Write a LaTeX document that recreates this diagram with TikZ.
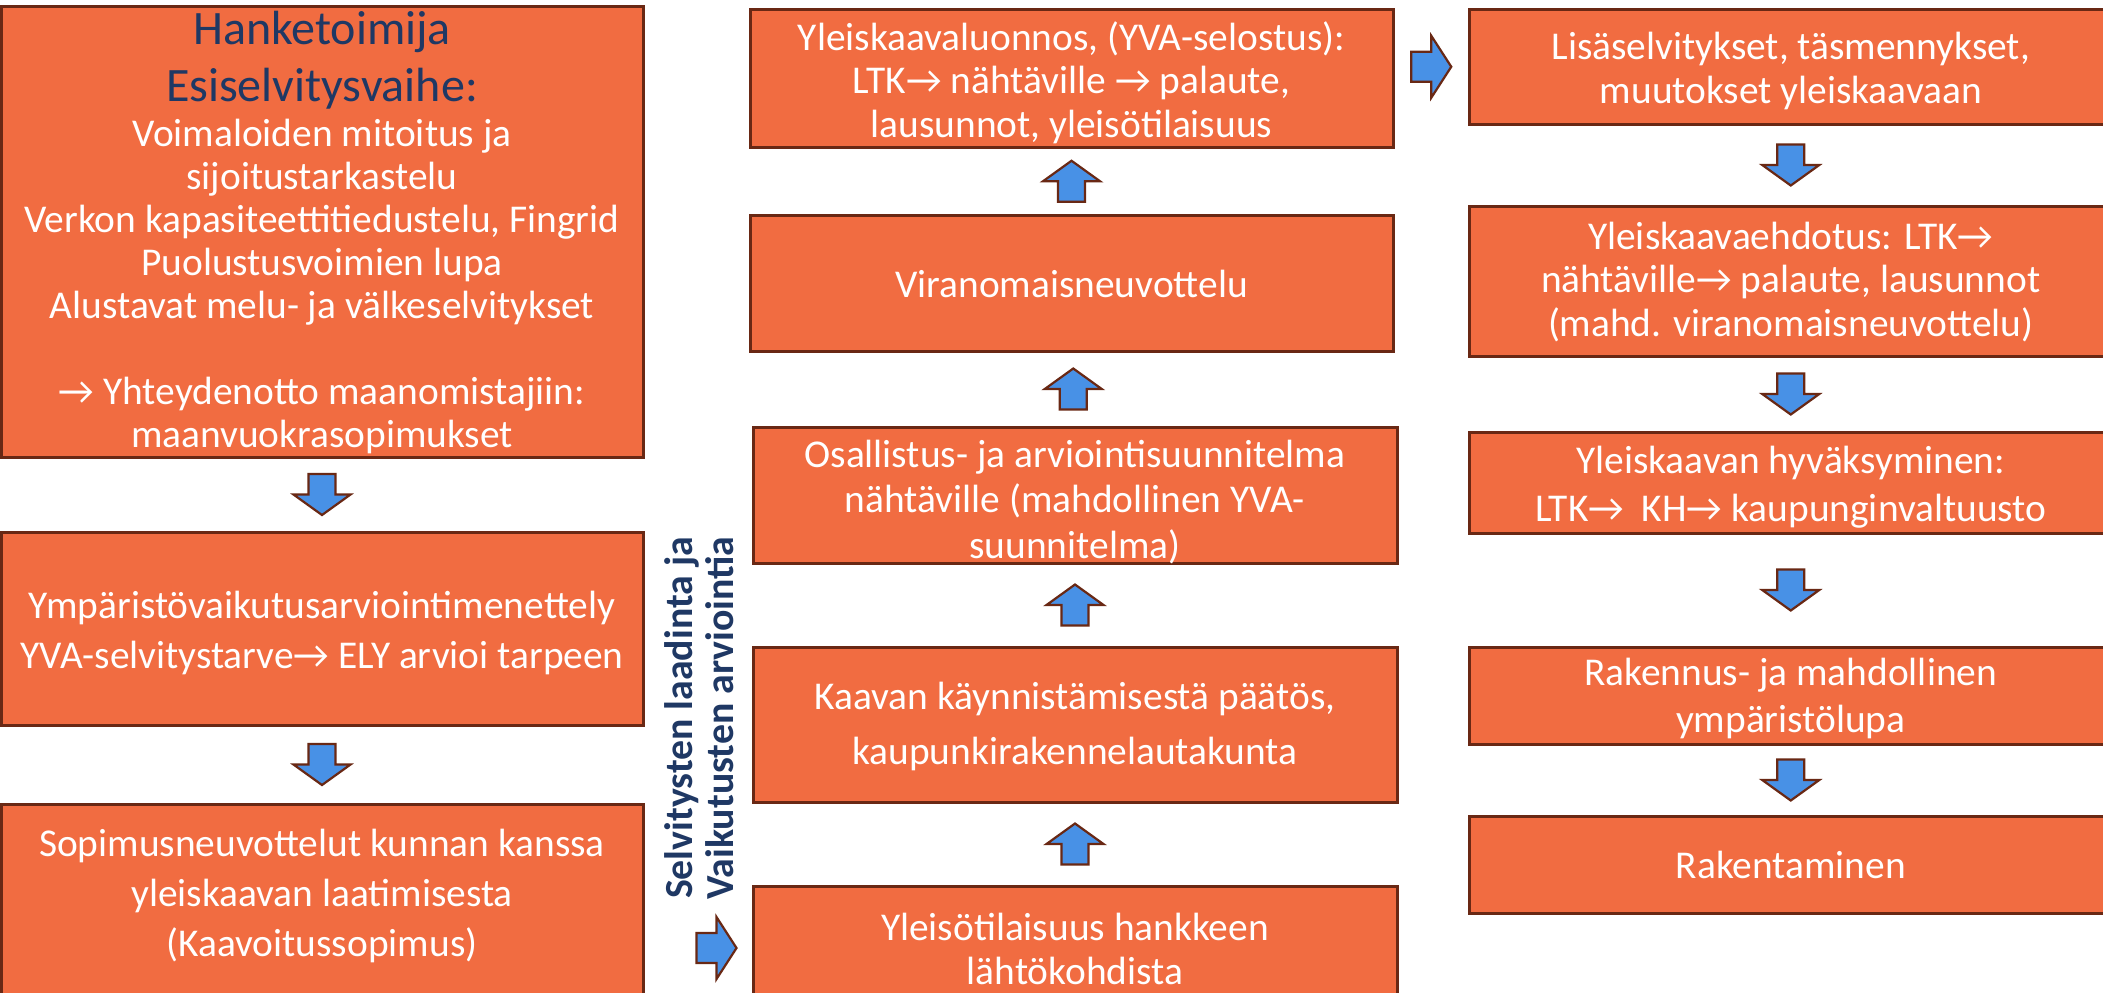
\documentclass[tikz,border=0pt]{standalone}
\usepackage{fontspec}
\setmainfont{Carlito}
\usetikzlibrary{calc}
\definecolor{org}{RGB}{241,108,65}
\definecolor{brd}{RGB}{105,40,20}
\definecolor{blu}{RGB}{72,145,230}
\definecolor{navy}{RGB}{31,56,100}
\tikzset{
  box/.style={draw=brd, fill=org, line width=1.5pt, inner sep=0pt},
  boxtext/.style={text=white, align=center, inner sep=0pt},
  barrow/.style={draw=brd, fill=blu, line width=1.1pt, line join=miter},
  dnarr/.pic={\path[barrow] (-13.5,-20.5) -- (13.5,-20.5) -- (13.5,0) -- (28.5,0) -- (0,20.5) -- (-28.5,0) -- (-13.5,0) -- cycle;},
  uparr/.pic={\path[barrow] (-13.5,20.5) -- (13.5,20.5) -- (13.5,0) -- (28.5,0) -- (0,-20.5) -- (-28.5,0) -- (-13.5,0) -- cycle;},
  rtarr/.pic={\path[barrow] (-20,-15) -- (0,-15) -- (0,-31) -- (20,0) -- (0,31) -- (0,15) -- (-20,15) -- cycle;}
}
% \bx{name}{x1}{y1}{x2}{y2}{leading}{text shift down in px}{text}  (pixel coordinates, y downwards)
\newcommand\bx[8]{\node[box, minimum width={(#4-#2)*0.5pt}, minimum height={(#5-#3)*0.5pt}]
  (#1) at ({(#2+#4)/2},{(#3+#5)/2}) {};
  \node[boxtext, font=\fontsize{19.7pt}{#6}\selectfont] (#1t) at ($(#1.center)+(0,#7)$) {#8};}
\begin{document}
\begin{tikzpicture}[x=0.5pt,y=-0.5pt]
\useasboundingbox (0,0) rectangle (2103,992);
\clip (0,0) rectangle (2103,992);
\fill[white] (0,0) rectangle (2103,992);
% left column
\node[box, minimum width=321pt, minimum height=225.5pt] (l1) at (322,231.5) {};
\node[boxtext, font=\fontsize{19.7pt}{21.5pt}\selectfont] (l1t) at ($(l1.center)+(0,1)$)
  {{\color{navy}\fontsize{24pt}{26pt}\selectfont Hanketoimija}\\[7pt]{\color{navy}\fontsize{24pt}{26pt}\selectfont Esiselvitysvaihe:}\\[1pt]Voimaloiden mitoitus ja\\sijoitustarkastelu\\Verkon kapasiteettitiedustelu, Fingrid\\Puolustusvoimien lupa\\Alustavat melu- ja välkeselvitykset\\\mbox{}\\→ Yhteydenotto maanomistajiin:\\maanvuokrasopimukset};
\bx{l2}{1}{532}{643}{725}{25pt}{4}{Ympäristövaikutusarviointimenettely\\YVA-selvitystarve→ ELY arvioi tarpeen}
\bx{l3}{1}{804}{643}{1000}{25pt}{-6}{Sopimusneuvottelut kunnan kanssa\\yleiskaavan laatimisesta\\(Kaavoitussopimus)}
% middle column
\bx{m1}{750}{9.5}{1393}{147.5}{21.8pt}{4}{Yleiskaavaluonnos, (YVA-selostus):\\LTK→ nähtäville → palaute,\\lausunnot, yleisötilaisuus}
\bx{m2}{750}{215}{1393}{351}{22pt}{1}{Viranomaisneuvottelu}
\bx{m3}{753}{427}{1397}{563}{22.8pt}{7}{Osallistus- ja arviointisuunnitelma\\nähtäville (mahdollinen YVA-\\suunnitelma)}
\bx{m4}{753}{647}{1397}{802}{27.5pt}{2}{Kaavan käynnistämisestä päätös,\\kaupunkirakennelautakunta}
\bx{m5}{753}{886}{1397}{1010}{22pt}{1}{Yleisötilaisuus hankkeen\\lähtökohdista}
% right column
\bx{r1}{1469.5}{9.5}{2112}{124}{22pt}{4}{Lisäselvitykset, täsmennykset,\\muutokset yleiskaavaan}
\bx{r2}{1469.5}{206}{2112}{356}{21.8pt}{1}{Yleiskaavaehdotus: LTK→\\nähtäville→ palaute, lausunnot\\(mahd. viranomaisneuvottelu)}
\bx{r3}{1469.5}{432}{2112}{533}{24pt}{5}{Yleiskaavan hyväksyminen:\\LTK→\ \ KH→ kaupunginvaltuusto}
\bx{r4}{1469.5}{647}{2112}{744}{23.5pt}{3}{Rakennus- ja mahdollinen\\ympäristölupa}
\bx{r5}{1469.5}{816}{2112}{913}{22pt}{0}{Rakentaminen}
% vertical label
\node[rotate=90, align=center, text=navy, inner sep=0pt,
  font=\fontsize{19.9pt}{20.5pt}\selectfont\bfseries] (lab) at (699,718) {Selvitysten laadinta ja\\Vaikutusten arviointia};
% arrows
\pic at ($(l1.south)!0.5!(l2.north)$) {dnarr};
\pic at ($(l2.south)!0.5!(l3.north)$) {dnarr};
\pic at ($(m5.north)!0.5!(m4.south)$) {uparr};
\pic at ($(m4.north)!0.5!(m3.south)$) {uparr};
\pic at ($(m3.north)!0.5!(m2.south)$) {uparr};
\pic at ($(m2.north)!0.5!(m1.south)$) {uparr};
\coordinate (h) at ($(m1.east)!0.5!(r1.west)$);
\pic at (h |- r1.west) {rtarr};
\pic at ($(r1.south)!0.5!(r2.north)$) {dnarr};
\pic at ($(r2.south)!0.5!(r3.north)$) {dnarr};
\pic at ($(r3.south)!0.5!(r4.north)$) {dnarr};
\pic at ($(r4.south)!0.5!(r5.north)$) {dnarr};
\coordinate (in) at ($(m5.west)+(-35,0)$);
\pic at (in) {rtarr};
\end{tikzpicture}
\end{document}
